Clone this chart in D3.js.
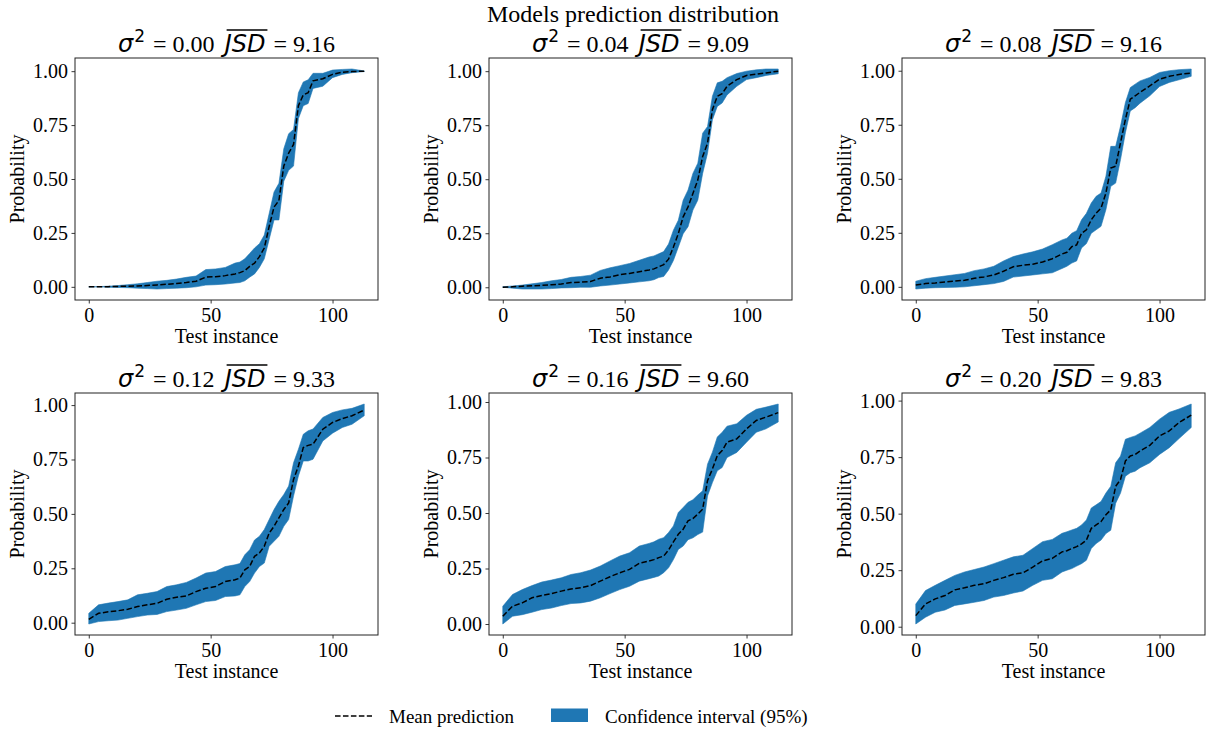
<!DOCTYPE html>
<html>
<head>
<meta charset="utf-8">
<script src="https://cdn.jsdelivr.net/npm/d3@7"></script>
<style>
  body { margin: 0; background: #fff; }
  svg { display: block; }
  text { font-family: "Liberation Serif", "Times New Roman", serif; fill: #000; }
</style>
</head>
<body>
<svg id="chart" width="1206" height="731"></svg>
<script>
// test instances
const instances = [0,4,8,12,16,20,24,28,32,36,40,44,48,52,56,60,62,64,66,68,70,72,74,76,78,80,82,84,86,88,90,92,96,100,104,108,113];

const sigmas = ["0.00", "0.04", "0.08", "0.12", "0.16", "0.20"];
const jsdValues = ["9.16", "9.09", "9.16", "9.33", "9.60", "9.83"];
const xTicks = [0, 50, 100];
const yTicks = [0, 0.25, 0.5, 0.75, 1.0];

const mean000 = [0,0,0.001,0.002,0.003,0.004,0.006,0.009,0.012,0.016,0.02,0.026,0.045,0.047,0.052,0.06,0.066,0.075,0.095,0.11,0.14,0.18,0.28,0.37,0.40,0.56,0.62,0.66,0.84,0.89,0.90,0.955,0.965,0.985,0.995,0.998,1.0];
const lower000 = [0,0,-0.002,-0.003,-0.004,-0.006,-0.008,-0.01,-0.008,-0.006,-0.004,0.0,0.008,0.01,0.013,0.018,0.02,0.028,0.045,0.06,0.09,0.13,0.22,0.31,0.31,0.49,0.54,0.56,0.78,0.84,0.85,0.92,0.93,0.97,0.985,0.993,0.998];
const upper000 = [0,0.001,0.003,0.006,0.01,0.014,0.02,0.026,0.03,0.036,0.044,0.05,0.08,0.083,0.09,0.11,0.115,0.13,0.155,0.18,0.2,0.24,0.34,0.44,0.48,0.64,0.71,0.73,0.9,0.95,0.96,0.99,0.99,1.005,1.008,1.01,1.001];

const mean004 = [0,0.002,0.005,0.007,0.009,0.012,0.015,0.022,0.024,0.027,0.042,0.048,0.058,0.064,0.072,0.08,0.085,0.095,0.105,0.13,0.186,0.248,0.326,0.372,0.434,0.496,0.605,0.667,0.822,0.884,0.896,0.93,0.961,0.98,0.986,0.992,1.0];
const lower004 = [0,-0.004,-0.008,-0.008,-0.008,-0.006,-0.003,-0.002,0.0,0.0,0.006,0.01,0.015,0.02,0.025,0.03,0.035,0.045,0.05,0.08,0.124,0.185,0.248,0.28,0.357,0.403,0.527,0.62,0.775,0.837,0.853,0.89,0.93,0.961,0.97,0.98,0.988];
const upper004 = [0.002,0.006,0.01,0.016,0.022,0.03,0.036,0.046,0.05,0.056,0.078,0.09,0.1,0.11,0.125,0.14,0.145,0.155,0.165,0.2,0.264,0.31,0.403,0.45,0.527,0.574,0.713,0.744,0.884,0.946,0.953,0.97,0.989,1.0,1.006,1.01,1.01];

const mean008 = [0.008,0.015,0.018,0.022,0.027,0.03,0.04,0.046,0.055,0.072,0.093,0.1,0.105,0.115,0.13,0.152,0.16,0.186,0.194,0.248,0.264,0.31,0.341,0.364,0.434,0.55,0.558,0.667,0.775,0.868,0.884,0.9,0.93,0.961,0.974,0.983,0.989];
const lower008 = [-0.01,-0.006,-0.004,-0.003,-0.002,0.0,0.005,0.01,0.015,0.025,0.045,0.05,0.055,0.06,0.065,0.085,0.095,0.11,0.12,0.18,0.2,0.248,0.264,0.28,0.357,0.465,0.48,0.589,0.713,0.814,0.829,0.85,0.884,0.927,0.946,0.958,0.974];
const upper008 = [0.026,0.038,0.044,0.05,0.056,0.062,0.075,0.083,0.095,0.12,0.14,0.152,0.162,0.175,0.195,0.217,0.225,0.248,0.26,0.31,0.34,0.388,0.419,0.434,0.512,0.65,0.65,0.744,0.853,0.922,0.938,0.953,0.969,0.992,1.0,1.005,1.008];

const mean012 = [0.015,0.043,0.05,0.055,0.062,0.074,0.082,0.089,0.108,0.117,0.123,0.143,0.158,0.166,0.189,0.197,0.205,0.243,0.258,0.305,0.32,0.351,0.412,0.443,0.482,0.52,0.55,0.658,0.72,0.805,0.815,0.82,0.889,0.92,0.938,0.951,0.977];
const lower012 = [-0.006,0.005,0.009,0.012,0.02,0.028,0.035,0.038,0.051,0.058,0.066,0.082,0.097,0.102,0.12,0.123,0.128,0.166,0.189,0.228,0.258,0.274,0.351,0.374,0.397,0.443,0.474,0.582,0.674,0.743,0.743,0.751,0.835,0.871,0.897,0.912,0.951];
const upper012 = [0.043,0.082,0.09,0.097,0.105,0.128,0.135,0.143,0.166,0.174,0.185,0.205,0.228,0.235,0.258,0.266,0.272,0.312,0.335,0.38,0.397,0.428,0.474,0.52,0.558,0.589,0.628,0.735,0.797,0.866,0.882,0.89,0.943,0.966,0.978,0.985,1.005];

const mean016 = [0.035,0.08,0.095,0.118,0.128,0.137,0.148,0.158,0.163,0.173,0.193,0.213,0.231,0.246,0.273,0.284,0.29,0.299,0.306,0.333,0.37,0.404,0.427,0.465,0.475,0.495,0.517,0.646,0.698,0.759,0.781,0.819,0.834,0.879,0.917,0.932,0.952];
const lower016 = [0.0,0.035,0.042,0.053,0.065,0.072,0.083,0.092,0.095,0.103,0.118,0.137,0.155,0.17,0.193,0.204,0.21,0.216,0.231,0.253,0.29,0.336,0.351,0.38,0.388,0.403,0.414,0.577,0.637,0.69,0.705,0.75,0.773,0.819,0.864,0.879,0.91];
const upper016 = [0.08,0.133,0.155,0.173,0.189,0.198,0.208,0.223,0.231,0.243,0.261,0.284,0.306,0.321,0.351,0.363,0.37,0.382,0.389,0.412,0.442,0.502,0.525,0.548,0.56,0.581,0.6,0.72,0.774,0.842,0.864,0.891,0.902,0.94,0.967,0.977,0.991];

const mean020 = [0.049,0.101,0.123,0.138,0.163,0.172,0.183,0.19,0.205,0.217,0.232,0.238,0.264,0.291,0.302,0.331,0.336,0.346,0.354,0.366,0.383,0.435,0.45,0.465,0.495,0.517,0.621,0.651,0.733,0.755,0.762,0.777,0.802,0.844,0.866,0.903,0.936];
const lower020 = [0.012,0.042,0.064,0.074,0.094,0.101,0.108,0.116,0.131,0.138,0.149,0.158,0.183,0.205,0.212,0.242,0.25,0.257,0.268,0.279,0.294,0.346,0.368,0.383,0.412,0.427,0.546,0.591,0.666,0.681,0.688,0.703,0.725,0.762,0.792,0.832,0.881];
const upper020 = [0.1,0.16,0.183,0.205,0.227,0.242,0.253,0.264,0.279,0.294,0.309,0.316,0.346,0.376,0.386,0.413,0.42,0.428,0.435,0.45,0.472,0.525,0.539,0.554,0.591,0.621,0.725,0.755,0.829,0.837,0.844,0.856,0.881,0.918,0.948,0.963,0.985];

const means = [mean000, mean004, mean008, mean012, mean016, mean020];
const lowers = [lower000, lower004, lower008, lower012, lower016, lower020];
const uppers = [upper000, upper004, upper008, upper012, upper016, upper020];

const blue = "#1f77b4";
const colLeft = [75, 489, 902];
const rowTop = [58, 393];
const plotW = 303, plotH = 242;

const svg = d3.select("#chart");
svg.append("rect").attr("width", 1206).attr("height", 731).attr("fill", "#fff");

svg.append("text")
  .attr("x", 633).attr("y", 22)
  .attr("text-anchor", "middle")
  .style("font-size", "24px")
  .text("Models prediction distribution");

// mathtext-like title: sigma^2 = v  overline(JSD) = w
function drawTitle(cx, baseline, sigma, jsd) {
  const g = svg.append("g");
  const parts = [
    { t: "σ", font: "DejaVu Sans", italic: true, size: 24, dy: 0, gap: 0 },
    { t: "2", font: "DejaVu Sans", size: 17, dy: -10, gap: 1 },
    { t: "= " + sigma, font: "Liberation Serif", size: 24, dy: 0, gap: 8 },
    { t: "JSD", font: "DejaVu Sans", italic: true, size: 24, dy: 0, gap: 10, over: true },
    { t: "= " + jsd, font: "Liberation Serif", size: 24, dy: 0, gap: 8 }
  ];
  let x = 0;
  parts.forEach(p => {
    x += p.gap;
    const t = g.append("text")
      .attr("x", x).attr("y", baseline + p.dy)
      .style("font-family", p.font)
      .style("font-style", p.italic ? "italic" : "normal")
      .style("font-size", p.size + "px")
      .text(p.t);
    const w = t.node().getComputedTextLength();
    if (p.over) {
      g.append("line")
        .attr("x1", x + 2).attr("x2", x + w + 2)
        .attr("y1", baseline - 21.5).attr("y2", baseline - 21.5)
        .attr("stroke", "#000").attr("stroke-width", 1.3);
    }
    x += w;
  });
  g.attr("transform", `translate(${cx - x / 2},0)`);
}

sigmas.forEach((s, i) => {
  const left = colLeft[i % 3];
  const top = rowTop[Math.floor(i / 3)];
  const mean = means[i], lo = lowers[i], hi = uppers[i];

  const x = d3.scaleLinear().domain([-5.65, 118.65]).range([left, left + plotW]);
  const ymin = d3.min(lo), ymax = d3.max(hi);
  const pad = (ymax - ymin) * 0.05;
  const y = d3.scaleLinear().domain([ymin - pad, ymax + pad]).range([top + plotH, top]);

  const area = d3.area()
    .x((d, k) => x(instances[k]))
    .y0((d, k) => y(lo[k]))
    .y1((d, k) => y(hi[k]));
  svg.append("path").datum(mean)
    .attr("d", area)
    .attr("fill", blue)
    .attr("stroke", blue).attr("stroke-width", 0.6);

  const line = d3.line()
    .x((d, k) => x(instances[k]))
    .y(d => y(d));
  svg.append("path").datum(mean)
    .attr("d", line)
    .attr("fill", "none")
    .attr("stroke", "#000")
    .attr("stroke-width", 1.5)
    .attr("stroke-dasharray", "5.55,2.4");

  // frame
  svg.append("rect")
    .attr("x", left).attr("y", top)
    .attr("width", plotW).attr("height", plotH)
    .attr("fill", "none").attr("stroke", "#222").attr("stroke-width", 1);

  const xAxis = svg.append("g")
    .attr("transform", `translate(0,${top + plotH})`)
    .call(d3.axisBottom(x).tickValues(xTicks).tickSize(3.5).tickPadding(4));
  const yAxis = svg.append("g")
    .attr("transform", `translate(${left},0)`)
    .call(d3.axisLeft(y).tickValues(yTicks).tickFormat(d3.format(".2f")).tickSize(3.5).tickPadding(3.5));
  [xAxis, yAxis].forEach(a => {
    a.select(".domain").remove();
    a.selectAll("line").attr("stroke", "#222").attr("stroke-width", 0.9);
    a.selectAll("text")
      .style("font-family", "Liberation Serif")
      .style("font-size", "20px")
      .attr("fill", "#000");
  });

  svg.append("text")
    .attr("x", left + plotW / 2).attr("y", top + plotH + 43)
    .attr("text-anchor", "middle")
    .style("font-size", "20px")
    .text("Test instance");

  svg.append("text")
    .attr("transform", `translate(${left - 51},${top + plotH / 2}) rotate(-90)`)
    .attr("text-anchor", "middle")
    .style("font-size", "20px")
    .text("Probability");

  drawTitle(left + plotW / 2, top - 6.5, s, jsdValues[i]);
});

// legend
const lg = svg.append("g");
lg.append("line")
  .attr("x1", 335).attr("x2", 372).attr("y1", 716).attr("y2", 716)
  .attr("stroke", "#000").attr("stroke-width", 1.5)
  .attr("stroke-dasharray", "5.55,2.4");
lg.append("text").attr("x", 389).attr("y", 722.5)
  .style("font-size", "19px").text("Mean prediction");
lg.append("rect")
  .attr("x", 551).attr("y", 708.5).attr("width", 37).attr("height", 13.5)
  .attr("fill", blue);
lg.append("text").attr("x", 605).attr("y", 722.5)
  .style("font-size", "19px").text("Confidence interval (95%)");
</script>
</body>
</html>
